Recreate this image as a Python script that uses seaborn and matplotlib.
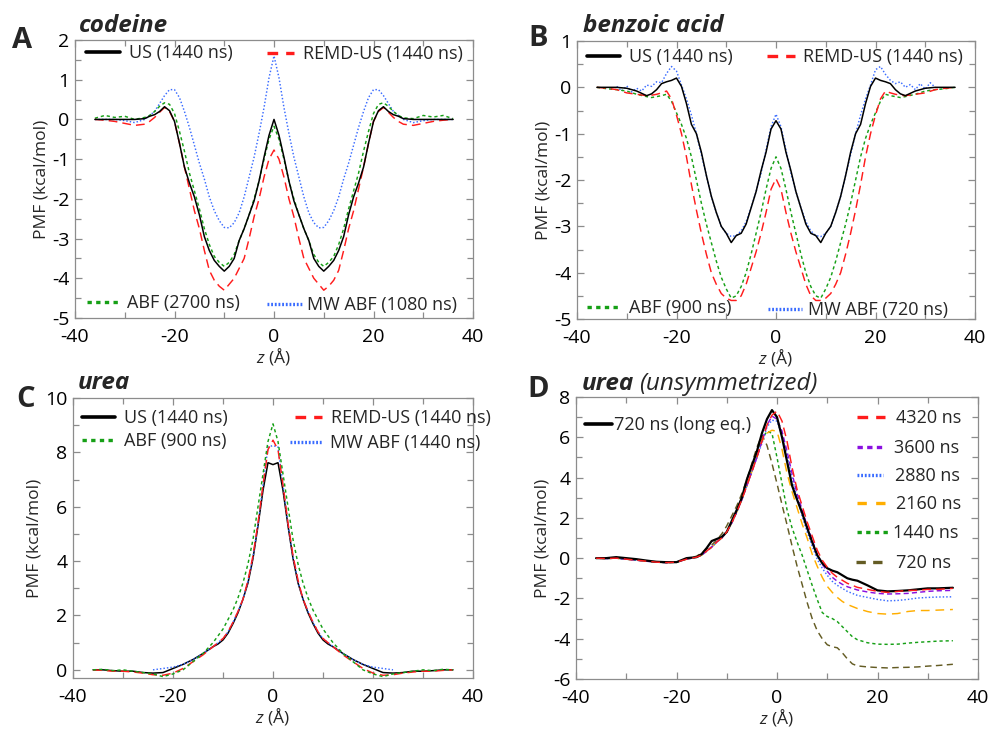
import numpy as np
import pandas as pd
import matplotlib
matplotlib.use("Agg")
import matplotlib.pyplot as plt
from matplotlib.lines import Line2D
from matplotlib.ticker import MultipleLocator
import seaborn as sns

# ---------------- data ----------------
zA = [-36, -34, -32, -30, -28, -26, -25, -24, -23, -22, -21, -20, -19, -18, -17, -16, -15, -14, -13, -12, -11,
      -10, -9, -8, -7, -6, -5, -4, -3, -2, -1, 0, 1, 2, 3, 4, 5, 6, 7, 8, 9, 10, 11, 12, 13, 14, 15, 16, 17,
      18, 19, 20, 21, 22, 23, 24, 25, 26, 28, 30, 32, 34, 36]

us_A = [0, 0, 0, 0, 0, 0.02, 0.08, 0.12, 0.2, 0.32, 0.22, -0.05, -0.6, -1.2, -1.6, -1.95, -2.4, -2.95, -3.3, -3.55,
        -3.7, -3.82, -3.7, -3.5, -3.05, -2.75, -2.4, -2.05, -1.55, -0.95, -0.4,
        0.0,
        -0.4, -0.95, -1.55, -2.05, -2.4, -2.75, -3.05, -3.5, -3.7, -3.82, -3.7, -3.55, -3.3, -2.95, -2.4, -1.95,
        -1.6, -1.2, -0.6, -0.05, 0.22, 0.32, 0.2, 0.12, 0.08, 0.02, 0, 0, 0, 0, 0]
remd_A = [0, -0.02, -0.05, -0.1, -0.15, -0.12, -0.05, 0.05, 0.18, 0.3, 0.2, -0.05, -0.6, -1.2, -1.75, -2.3, -2.75,
          -3.3, -3.8, -4.05, -4.2, -4.3, -4.15, -4.0, -3.75, -3.5, -3.0, -2.45, -2.0, -1.45, -1.0,
          -0.77,
          -1.0, -1.45, -2.0, -2.45, -3.0, -3.5, -3.75, -4.0, -4.15, -4.3, -4.2, -4.05, -3.8, -3.3, -2.75, -2.3,
          -1.75, -1.2, -0.6, -0.05, 0.2, 0.3, 0.18, 0.05, -0.05, -0.12, -0.15, -0.1, -0.05, -0.02, 0]
abf_A = [0.03, 0.1, 0.05, 0.08, 0.0, 0.05, 0.1, 0.2, 0.33, 0.42, 0.38, 0.15, -0.3, -0.8, -1.35, -1.8, -2.25, -2.75,
         -3.15, -3.45, -3.6, -3.7, -3.6, -3.4, -3.05, -2.75, -2.4, -2.0, -1.55, -1.0, -0.5,
         -0.17,
         -0.5, -1.0, -1.55, -2.0, -2.4, -2.75, -3.05, -3.4, -3.6, -3.7, -3.6, -3.45, -3.15, -2.75, -2.25, -1.8,
         -1.35, -0.8, -0.3, 0.15, 0.38, 0.42, 0.33, 0.2, 0.1, 0.04, 0.02, 0.1, 0.06, 0.1, 0.02]
mw_A = [0, 0, 0, -0.03, -0.08, 0.0, 0.1, 0.2, 0.4, 0.6, 0.75, 0.75, 0.55, 0.2, -0.2, -0.65, -1.1, -1.5, -1.95, -2.3,
        -2.55, -2.72, -2.73, -2.6, -2.35, -1.95, -1.45, -0.95, -0.35, 0.3, 1.05,
        1.6,
        1.05, 0.3, -0.35, -0.95, -1.45, -1.95, -2.35, -2.6, -2.73, -2.72, -2.55, -2.3, -1.95, -1.5, -1.1, -0.65,
        -0.2, 0.2, 0.55, 0.75, 0.75, 0.6, 0.4, 0.2, 0.1, 0.0, -0.08, -0.03, 0, 0, 0]

zB = zA
us_B = [0, 0, 0, -0.02, -0.08, -0.18, -0.14, -0.05, 0.08, 0.12, 0.15, 0.2, 0.02, -0.35, -0.8, -1.0, -1.4, -1.9,
        -2.35, -2.7, -3.0, -3.15, -3.35, -3.2, -3.15, -2.95, -2.6, -2.25, -1.8, -1.4, -0.9,
        -0.72,
        -0.9, -1.4, -1.8, -2.25, -2.6, -2.95, -3.15, -3.2, -3.35, -3.15, -3.0, -2.7, -2.35, -1.9, -1.4, -1.0,
        -0.8, -0.35, 0.02, 0.2, 0.15, 0.12, 0.08, -0.05, -0.14, -0.18, -0.08, -0.02, 0, 0, 0]
remd_B = [0, -0.02, -0.05, -0.12, -0.15, -0.18, -0.17, -0.15, -0.12, -0.08, -0.25, -0.6, -1.0, -1.5, -2.1, -2.65,
          -3.15, -3.6, -4.0, -4.25, -4.45, -4.55, -4.6, -4.6, -4.5, -4.25, -3.9, -3.55, -3.15, -2.7, -2.2,
          -1.97,
          -2.2, -2.7, -3.15, -3.55, -3.9, -4.25, -4.5, -4.6, -4.6, -4.55, -4.45, -4.25, -4.0, -3.6, -3.15, -2.65,
          -2.1, -1.5, -1.0, -0.6, -0.25, -0.08, -0.12, -0.15, -0.17, -0.18, -0.15, -0.12, -0.05, -0.02, 0]
abf_B = [0, -0.03, -0.05, -0.08, -0.15, -0.2, -0.22, -0.2, -0.18, -0.15, -0.3, -0.55, -0.8, -1.1, -1.5, -2.0, -2.5,
         -2.95, -3.35, -3.75, -4.1, -4.35, -4.55, -4.5, -4.3, -4.0, -3.6, -3.15, -2.7, -2.2, -1.75,
         -1.5,
         -1.75, -2.2, -2.7, -3.15, -3.6, -4.0, -4.3, -4.5, -4.55, -4.35, -4.1, -3.75, -3.35, -2.95, -2.5, -2.0,
         -1.5, -1.1, -0.8, -0.55, -0.3, -0.15, -0.18, -0.2, -0.22, -0.2, -0.15, -0.08, -0.05, -0.03, 0]
zB_mw = [-32, -31, -30, -29, -28, -27, -26, -25, -24, -23, -22, -21, -20, -19, -18, -17, -16, -15, -14, -13, -12,
         -11, -10, -9, -8, -7, -6, -5, -4, -3, -2, -1, 0, 1, 2, 3, 4, 5, 6, 7, 8, 9, 10, 11, 12, 13, 14, 15, 16,
         17, 18, 19, 20, 21, 22, 23, 24, 25, 26, 27, 28, 29, 30, 31, 32]
mw_B = [0.02, -0.08, 0.03, -0.1, -0.02, -0.08, 0.05, 0.02, 0.12, 0.1, 0.3, 0.45, 0.35, 0.05, -0.25, -0.6, -1.0,
        -1.45, -1.9, -2.35, -2.7, -3.0, -3.15, -3.22, -3.2, -3.1, -2.9, -2.6, -2.25, -1.85, -1.35, -0.85,
        -0.58,
        -0.85, -1.35, -1.85, -2.25, -2.6, -2.9, -3.1, -3.2, -3.22, -3.15, -3.0, -2.7, -2.35, -1.9, -1.45, -1.0,
        -0.6, -0.25, 0.05, 0.38, 0.45, 0.28, 0.15, 0.08, 0.12, 0.0, 0.06, -0.05, 0.08, -0.04, 0.1, 0.0]

zC = [-36, -34, -32, -30, -28, -26, -24, -22, -20, -18, -16, -14, -12, -11, -10, -9, -8, -7, -6, -5, -4, -3, -2,
      -1, 0, 1, 2, 3, 4, 5, 6, 7, 8, 9, 10, 11, 12, 14, 16, 18, 20, 22, 24, 26, 28, 30, 32, 34, 36]
us_C = [0, 0, -0.03, -0.05, -0.05, -0.1, -0.12, -0.1, 0.05, 0.2, 0.38, 0.6, 0.85, 0.95, 1.1, 1.35, 1.7, 2.1, 2.6,
        3.2, 4.1, 5.3, 6.6, 7.62,
        7.55,
        7.62, 6.6, 5.3, 4.1, 3.2, 2.6, 2.1, 1.7, 1.35, 1.1, 0.95, 0.85, 0.6, 0.38, 0.2, 0.05, -0.1, -0.12, -0.1,
        -0.05, -0.05, -0.03, 0, 0]
remd_C = [0, -0.02, -0.05, -0.05, -0.08, -0.12, -0.18, -0.2, -0.12, 0.05, 0.3, 0.55, 0.85, 1.0, 1.15, 1.4, 1.75,
          2.15, 2.6, 3.3, 4.2, 5.4, 6.8, 8.1,
          8.45,
          8.1, 6.8, 5.4, 4.2, 3.3, 2.6, 2.15, 1.75, 1.4, 1.15, 1.0, 0.85, 0.55, 0.3, 0.05, -0.12, -0.2, -0.18,
          -0.12, -0.08, -0.05, -0.05, -0.02, 0]
abf_C = [0, 0.02, -0.03, 0.0, -0.05, -0.1, -0.15, -0.25, -0.15, 0.0, 0.3, 0.6, 1.0, 1.25, 1.5, 1.85, 2.2, 2.65,
         3.2, 3.9, 4.8, 6.0, 7.2, 8.4,
         9.05,
         8.4, 7.2, 6.0, 4.8, 3.9, 3.2, 2.65, 2.2, 1.85, 1.5, 1.25, 1.0, 0.6, 0.3, 0.0, -0.15, -0.25, -0.15, -0.1,
         -0.05, 0.0, -0.03, 0.02, 0]
zC_mw = [-24, -22, -20, -18, -16, -14, -12, -11, -10, -9, -8, -7, -6, -5, -4, -3, -2, -1, 0, 1, 2, 3, 4, 5, 6, 7,
         8, 9, 10, 11, 12, 14, 16, 18, 20, 22, 24]
mw_C = [0.0, 0.05, 0.1, 0.2, 0.38, 0.6, 0.85, 1.0, 1.15, 1.4, 1.75, 2.15, 2.6, 3.25, 4.15, 5.35, 6.8, 8.2,
        8.25,
        8.2, 6.8, 5.35, 4.15, 3.25, 2.6, 2.15, 1.75, 1.4, 1.15, 1.0, 0.85, 0.6, 0.38, 0.2, 0.1, 0.05, 0.0]

zD = [-36, -34, -32, -30, -28, -26, -24, -22, -20, -18, -16, -15, -14, -13, -12, -11, -10, -9, -8, -7, -6, -5, -4,
      -3, -2, -1, 0, 1, 2, 3, 4, 5, 6, 7, 8, 9, 10, 11, 12, 13, 14, 15, 16, 18, 20, 22, 24, 26, 28, 30, 32, 35]
long_D = [0, 0.0, 0.05, 0.0, -0.05, -0.12, -0.18, -0.2, -0.2, 0.0, 0.05, 0.2, 0.5, 0.85, 0.95, 1.05, 1.3, 1.85,
          2.4, 3.0, 3.9, 4.6, 5.3, 6.2, 6.9, 7.35,
          7.0, 6.0, 4.8, 3.6, 2.9, 2.25, 1.5, 0.8, 0.15, -0.25, -0.5, -0.62, -0.7, -0.85, -1.0, -1.07, -1.12,
          -1.35, -1.6, -1.65, -1.63, -1.6, -1.55, -1.5, -1.5, -1.47]
d4320 = [0, -0.02, 0.0, -0.05, -0.1, -0.15, -0.2, -0.22, -0.2, -0.05, 0.05, 0.15, 0.35, 0.55, 0.8, 1.0, 1.3, 1.75,
         2.3, 2.9, 3.6, 4.3, 5.0, 5.8, 6.6, 7.1,
         7.3, 6.8, 5.8, 4.5, 3.4, 2.6, 1.8, 1.1, 0.4, -0.1, -0.45, -0.75, -0.95, -1.1, -1.25, -1.35, -1.45,
         -1.55, -1.65, -1.7, -1.65, -1.6, -1.6, -1.55, -1.55, -1.5]
d3600 = [0, -0.02, 0.0, -0.05, -0.1, -0.15, -0.2, -0.22, -0.2, -0.05, 0.05, 0.15, 0.35, 0.55, 0.8, 1.0, 1.3, 1.75,
         2.3, 2.9, 3.6, 4.3, 5.0, 5.8, 6.6, 7.05,
         6.9, 6.3, 5.3, 4.2, 3.2, 2.4, 1.6, 0.9, 0.2, -0.3, -0.65, -0.95, -1.15, -1.3, -1.42, -1.5, -1.58,
         -1.68, -1.75, -1.78, -1.77, -1.75, -1.7, -1.65, -1.62, -1.6]
d2880 = [0, -0.02, 0.0, -0.05, -0.1, -0.15, -0.2, -0.22, -0.2, -0.05, 0.05, 0.15, 0.35, 0.55, 0.8, 1.0, 1.3, 1.75,
         2.3, 2.9, 3.6, 4.3, 5.0, 5.7, 6.5, 6.85,
         6.8, 6.1, 5.1, 4.0, 3.0, 2.1, 1.3, 0.6, -0.05, -0.5, -0.85, -1.15, -1.35, -1.5, -1.65, -1.75, -1.85,
         -1.95, -2.05, -2.12, -2.1, -2.05, -1.98, -1.95, -1.93, -1.92]
d2160 = [0, -0.02, 0.0, -0.05, -0.1, -0.15, -0.2, -0.22, -0.2, -0.05, 0.05, 0.15, 0.35, 0.55, 0.8, 1.0, 1.3, 1.75,
         2.3, 2.9, 3.6, 4.3, 5.0, 5.8, 6.2, 6.35,
         6.3, 5.4, 4.2, 3.3, 2.5, 1.7, 1.0, 0.2, -0.4, -0.95, -1.4, -1.7, -1.95, -2.15, -2.3, -2.4, -2.5,
         -2.65, -2.75, -2.78, -2.75, -2.65, -2.6, -2.6, -2.58, -2.55]
d1440 = [0, -0.02, 0.0, -0.05, -0.1, -0.15, -0.2, -0.22, -0.2, -0.05, 0.05, 0.15, 0.35, 0.55, 0.8, 1.0, 1.3, 1.75,
         2.3, 2.9, 3.6, 4.3, 5.1, 5.9, 6.3, 6.2,
         5.0, 3.7, 2.4, 1.5, 0.8, 0.15, -0.6, -1.35, -2.05, -2.7, -2.9, -3.0, -3.15, -3.4, -3.65, -3.9, -4.05,
         -4.2, -4.27, -4.28, -4.27, -4.22, -4.18, -4.15, -4.12, -4.1]
d720 = [0, -0.02, 0.0, -0.05, -0.1, -0.15, -0.2, -0.22, -0.2, -0.05, 0.1, 0.25, 0.45, 0.65, 0.9, 1.2, 1.6, 2.1,
        2.6, 3.2, 3.9, 4.7, 5.5, 6.1, 5.6, 4.7,
        3.7, 2.65, 1.65, 0.6, -0.4, -1.3, -2.2, -3.0, -3.6, -4.0, -4.3, -4.4, -4.45, -4.7, -5.0, -5.25, -5.35,
        -5.4, -5.43, -5.45, -5.43, -5.42, -5.4, -5.36, -5.33, -5.27]

lab_A = ["US (1440 ns)", "REMD-US (1440 ns)", "ABF (2700 ns)", "MW ABF (1080 ns)"]
lab_B = ["US (1440 ns)", "REMD-US (1440 ns)", "ABF (900 ns)", "MW ABF (720 ns)"]
lab_C = ["US (1440 ns)", "REMD-US (1440 ns)", "ABF (900 ns)", "MW ABF (1440 ns)"]
lab_D = ["720 ns (long eq.)", "4320 ns", "3600 ns", "2880 ns", "2160 ns", "1440 ns", "720 ns"]

# ---------------- style ----------------
sns.set_theme(style="ticks")
plt.rcParams['font.family'] = ['Open Sans', 'DejaVu Sans']
plt.rcParams['axes.unicode_minus'] = False
plt.rcParams['mathtext.fontset'] = 'custom'
plt.rcParams['mathtext.rm'] = 'Open Sans'
plt.rcParams['mathtext.it'] = 'Open Sans:italic'

W, H = 989, 731
fig = plt.figure(figsize=(W / 100, H / 100), dpi=100)

BLACK = '#000000'
RED = '#ff1c1c'
GREEN = '#16a016'
BLUE = '#3a6cff'
PURPLE = '#8a10e0'
ORANGE = '#ffae00'
OLIVE = '#645c24'
GRAY = '#8c8c8c'
FS = 13
TICKFS = 14


def axbox(l, r, t, b):
    return [l / W, 1 - b / H, (r - l) / W, (b - t) / H]


axA = fig.add_axes(axbox(75, 473, 40, 318))
axB = fig.add_axes(axbox(577, 975, 41, 319))
axC = fig.add_axes(axbox(73, 473, 398, 678))
axD = fig.add_axes(axbox(576, 978, 397, 679))

LW = 1.05
ls_red = (0, (6, 3.5))
ls_green = (0, (2.2, 2.0))
ls_blue = (0, (1.0, 1.4))
ls_purple = (0, (3.5, 2.2))
ls_orange = (0, (6, 4))
ls_olive = (0, (4.5, 3))


def draw(ax, z, v, color, ls, lw=LW):
    df = pd.DataFrame({"z": z, "v": v})
    sns.lineplot(data=df, x="z", y="v", ax=ax, color=color, linestyle=ls, linewidth=lw,
                 sort=False, estimator=None, legend=False)


draw(axA, zA, mw_A, BLUE, ls_blue)
draw(axA, zA, abf_A, GREEN, ls_green)
draw(axA, zA, remd_A, RED, ls_red)
draw(axA, zA, us_A, BLACK, '-', 1.1)

draw(axB, zB_mw, mw_B, BLUE, ls_blue)
draw(axB, zB, abf_B, GREEN, ls_green)
draw(axB, zB, remd_B, RED, ls_red)
draw(axB, zB, us_B, BLACK, '-', 1.1)

draw(axC, zC, us_C, BLACK, '-', 1.1)
draw(axC, zC_mw, mw_C, BLUE, ls_blue)
draw(axC, zC, remd_C, RED, ls_red)
draw(axC, zC, abf_C, GREEN, ls_green)

draw(axD, zD, d720, OLIVE, ls_olive)
draw(axD, zD, d1440, GREEN, ls_green)
draw(axD, zD, d2160, ORANGE, ls_orange)
draw(axD, zD, d2880, BLUE, ls_blue)
draw(axD, zD, d3600, PURPLE, ls_purple)
draw(axD, zD, long_D, BLACK, '-', 1.6)
draw(axD, zD, d4320, RED, ls_red)

limits = {axA: (-5, 2, 1, 0.5), axB: (-5, 1, 1, 0.5), axC: (-0.3, 10, 2, 1), axD: (-6, 8, 2, 1)}
for ax, (y0, y1, ymaj, ymin) in limits.items():
    ax.set_xlim(-40, 40)
    ax.set_ylim(y0, y1)
    ax.xaxis.set_major_locator(MultipleLocator(20))
    ax.xaxis.set_minor_locator(MultipleLocator(10))
    ax.yaxis.set_major_locator(MultipleLocator(ymaj))
    ax.yaxis.set_minor_locator(MultipleLocator(ymin))
    ax.tick_params(which='both', direction='in', top=True, right=True, color=GRAY, width=0.9,
                   labelsize=TICKFS, labelcolor='black')
    ax.tick_params(axis='x', which='both', pad=7)
    ax.tick_params(axis='y', which='both', pad=4)
    ax.tick_params(which='major', length=5)
    ax.tick_params(which='minor', length=4)
    for s in ax.spines.values():
        s.set_color(GRAY)
        s.set_linewidth(0.9)
    ax.set_xlabel('$z$ (Å)', fontsize=12.5, labelpad=0)
    ax.set_ylabel('PMF (kcal/mol)', fontsize=12.5, labelpad=2)

# ---------------- legends (individual entries) ----------------
EM = FS * 100 / 72


def entry(px, py, color, ls, lw, label, hl_px, pad_px):
    h = Line2D([], [], color=color, linestyle=ls, linewidth=lw)
    fig.legend(handles=[h], labels=[label], loc='center left',
               bbox_to_anchor=(px / W, 1 - py / H), bbox_transform=fig.transFigure,
               frameon=False, borderpad=0, borderaxespad=0, fontsize=FS,
               handlelength=hl_px / EM, handletextpad=pad_px / EM)


HLW = 2.4
hs_red = (0, (3.2, 2.4))
hs_green = (0, (1.3, 1.3))
hs_blue = (0, (0.55, 0.55))
hs_purple = (0, (1.6, 1.3))
hs_orange = (0, (2.8, 2.8))
hs_olive = (0, (2.8, 2.2))

# A
entry(86, 53, BLACK, '-', 2.6, lab_A[0], 34, 9)
entry(267, 54, RED, hs_red, HLW, lab_A[1], 27, 9)
entry(87, 303, GREEN, hs_green, HLW, lab_A[2], 31, 9)
entry(267, 305, BLUE, hs_blue, HLW, lab_A[3], 35, 5)
# B
entry(587, 57, BLACK, '-', 2.6, lab_B[0], 33, 9)
entry(767, 57, RED, hs_red, HLW, lab_B[1], 28, 8)
entry(587, 308, GREEN, hs_green, HLW, lab_B[2], 33, 9)
entry(768, 310, BLUE, hs_blue, HLW, lab_B[3], 34, 6)
# C
entry(82, 418, BLACK, '-', 2.6, lab_C[0], 33, 9)
entry(82, 441, GREEN, hs_green, HLW, lab_C[2], 33, 9)
entry(295, 418, RED, hs_red, HLW, lab_C[1], 27, 9)
entry(290, 443, BLUE, hs_blue, HLW, lab_C[3], 33, 7)
# D
entry(585, 425, BLACK, '-', 2.6, lab_D[0], 27, 2)
entry(857, 418, RED, hs_red, HLW, lab_D[1], 28, 11)
entry(857, 448, PURPLE, hs_purple, HLW, lab_D[2], 28, 9)
entry(857, 476, BLUE, hs_blue, HLW, lab_D[3], 26, 12)
entry(857, 504, ORANGE, hs_orange, HLW, lab_D[4], 28, 11)
entry(857, 533, GREEN, hs_green, HLW, lab_D[5], 31, 5)
entry(856, 563, OLIVE, hs_olive, HLW, lab_D[6], 32, 8)

# ---------------- titles / panel letters ----------------
def ftext(px, py, s, **kw):
    return fig.text(px / W, 1 - py / H, s, va='baseline', ha='left', **kw)


ftext(12, 48, 'A', fontsize=21, fontweight='bold')
ftext(528, 46, 'B', fontsize=21, fontweight='bold')
ftext(16, 407, 'C', fontsize=21, fontweight='bold')
ftext(527, 397, 'D', fontsize=21, fontweight='bold')

TFS = 17.5
ftext(79, 32, 'codeine', fontsize=TFS, fontweight='bold', fontstyle='italic')
ftext(583, 32, 'benzoic acid', fontsize=TFS, fontweight='bold', fontstyle='italic')
ftext(78, 389, 'urea', fontsize=TFS, fontweight='bold', fontstyle='italic')
t1 = ftext(582, 390, 'urea', fontsize=TFS, fontweight='bold', fontstyle='italic')
r = fig.canvas.get_renderer()
bb = t1.get_window_extent(renderer=r)
ftext(bb.x1 + 5, 390, '(unsymmetrized)', fontsize=TFS, fontstyle='italic')

fig.savefig('out.png', dpi=100)
